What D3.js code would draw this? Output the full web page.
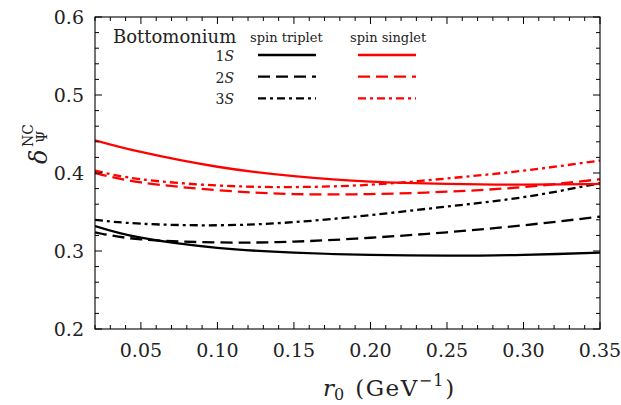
<!DOCTYPE html>
<html><head><meta charset="utf-8">
<script src="https://cdn.jsdelivr.net/npm/d3@7"></script>
<style>
body{margin:0;background:#fff;}
svg{display:block;}
text{font-family:"DejaVu Serif",serif;fill:#222;}
</style></head>
<body>
<svg id="chart" width="621" height="405"></svg>
<script>
const r0 = [0.02, 0.05, 0.10, 0.15, 0.20, 0.25, 0.30, 0.35];
const triplet1S = [0.332, 0.317, 0.304, 0.298, 0.295, 0.294, 0.295, 0.298];
const triplet2S = [0.324, 0.315, 0.311, 0.312, 0.317, 0.324, 0.333, 0.344];
const triplet3S = [0.340, 0.335, 0.333, 0.337, 0.346, 0.357, 0.369, 0.387];
const singlet1S = [0.442, 0.427, 0.408, 0.396, 0.389, 0.386, 0.385, 0.386];
const singlet2S = [0.400, 0.388, 0.378, 0.373, 0.373, 0.376, 0.382, 0.392];
const singlet3S = [0.403, 0.392, 0.384, 0.382, 0.385, 0.393, 0.403, 0.416];
const xTicks = [0.05, 0.10, 0.15, 0.20, 0.25, 0.30, 0.35];
const yTicks = [0.2, 0.3, 0.4, 0.5, 0.6];
const states = ["1S", "2S", "3S"];

const svg = d3.select("#chart");
const m = {l:95, r:600, t:17, b:329};
const x = d3.scaleLinear().domain([0.02, 0.35]).range([m.l, m.r]);
const y = d3.scaleLinear().domain([0.2, 0.6]).range([m.b, m.t]);

const dashes = [null, "12,6", "8,4,3,4"];
const series = [
  {v: triplet1S, c:"#000", d:dashes[0]},
  {v: triplet2S, c:"#000", d:dashes[1]},
  {v: triplet3S, c:"#000", d:dashes[2]},
  {v: singlet1S, c:"#f00", d:dashes[0]},
  {v: singlet2S, c:"#f00", d:dashes[1]},
  {v: singlet3S, c:"#f00", d:dashes[2]}
];
const line = d3.line().x(d=>x(d[0])).y(d=>y(d[1])).curve(d3.curveNatural);
svg.append("clipPath").attr("id","clip").append("rect")
  .attr("x", m.l).attr("y", m.t).attr("width", m.r-m.l).attr("height", m.b-m.t);
const g = svg.append("g").attr("clip-path","url(#clip)");
series.forEach(s=>{
  g.append("path").datum(r0.map((r,i)=>[r, s.v[i]]))
   .attr("d", line).attr("fill","none").attr("stroke", s.c)
   .attr("stroke-width", 2.3).attr("stroke-dasharray", s.d);
});

// frame
svg.append("rect").attr("x", m.l).attr("y", m.t).attr("width", m.r-m.l).attr("height", m.b-m.t)
  .attr("fill","none").attr("stroke","#000").attr("stroke-width",1.1);

// ticks
const xMinor = d3.range(2, 36).map(k=>k/100);
const yMinor = d3.range(10, 31).map(k=>k/50);
const isMajX = v => xTicks.some(t=>Math.abs(t-v)<1e-9);
const isMajY = v => yTicks.some(t=>Math.abs(t-v)<1e-9);
const tk = svg.append("g").attr("stroke","#000").attr("stroke-width",1);
xMinor.forEach(v=>{
  const L = isMajX(v) ? 7 : 4;
  tk.append("line").attr("x1",x(v)).attr("x2",x(v)).attr("y1",m.b).attr("y2",m.b-L);
  tk.append("line").attr("x1",x(v)).attr("x2",x(v)).attr("y1",m.t).attr("y2",m.t+L);
});
yMinor.forEach(v=>{
  const L = isMajY(v) ? 7 : 4;
  tk.append("line").attr("y1",y(v)).attr("y2",y(v)).attr("x1",m.l).attr("x2",m.l+L);
  tk.append("line").attr("y1",y(v)).attr("y2",y(v)).attr("x1",m.r).attr("x2",m.r-L);
});

// tick labels
svg.append("g").selectAll("text").data(xTicks).join("text")
  .attr("x", d=>x(d)).attr("y", 357).attr("text-anchor","middle")
  .attr("font-size",19)
  .text(d=>d3.format(".2f")(d));
svg.append("g").selectAll("text").data(yTicks).join("text")
  .attr("x", 84).attr("y", d=>y(d)).attr("dy","0.35em").attr("text-anchor","end")
  .attr("font-size",19)
  .text(d=>d3.format(".1f")(d));

// x label
const xl = svg.append("text").attr("x",323).attr("y",396).attr("font-size",23);
xl.append("tspan").attr("font-style","italic").text("r");
xl.append("tspan").attr("font-size",16).attr("dy",4).text("0");
xl.append("tspan").attr("dy",-4).attr("dx",11).attr("letter-spacing",1.5).text("(GeV");
xl.append("tspan").attr("font-size",16).attr("dy",-10).attr("letter-spacing",1).text("−1");
xl.append("tspan").attr("dy",10).attr("dx",1).text(")");

// y label
const yl = svg.append("g").attr("transform","translate(47,164) rotate(-90)");
yl.append("text").attr("x",0).attr("y",0).attr("font-size",24).attr("font-style","italic").text("δ");
yl.append("text").attr("x",17).attr("y",-14).attr("font-size",14).text("NC");
yl.append("text").attr("x",21).attr("y",0).attr("font-size",14).text("Ψ");

// legend
svg.append("text").attr("x",113).attr("y",43).attr("font-size",18).text("Bottomonium");
svg.append("text").attr("x",250).attr("y",42).attr("font-size",13).text("spin triplet");
svg.append("text").attr("x",350).attr("y",42).attr("font-size",13).text("spin singlet");
const ly = [55, 76.7, 98.3];
states.forEach((s,i)=>{
  const t = svg.append("text").attr("x",234).attr("y",ly[i]+6).attr("text-anchor","end").attr("font-size",14);
  t.append("tspan").text(s[0]);
  t.append("tspan").attr("font-style","italic").text(s[1]);
  svg.append("line").attr("x1",258).attr("x2",316).attr("y1",ly[i]).attr("y2",ly[i])
    .attr("stroke","#000").attr("stroke-width",2.3).attr("stroke-dasharray",dashes[i]);
  svg.append("line").attr("x1",358).attr("x2",416).attr("y1",ly[i]).attr("y2",ly[i])
    .attr("stroke","#f00").attr("stroke-width",2.3).attr("stroke-dasharray",dashes[i]);
});
</script>
</body></html>
